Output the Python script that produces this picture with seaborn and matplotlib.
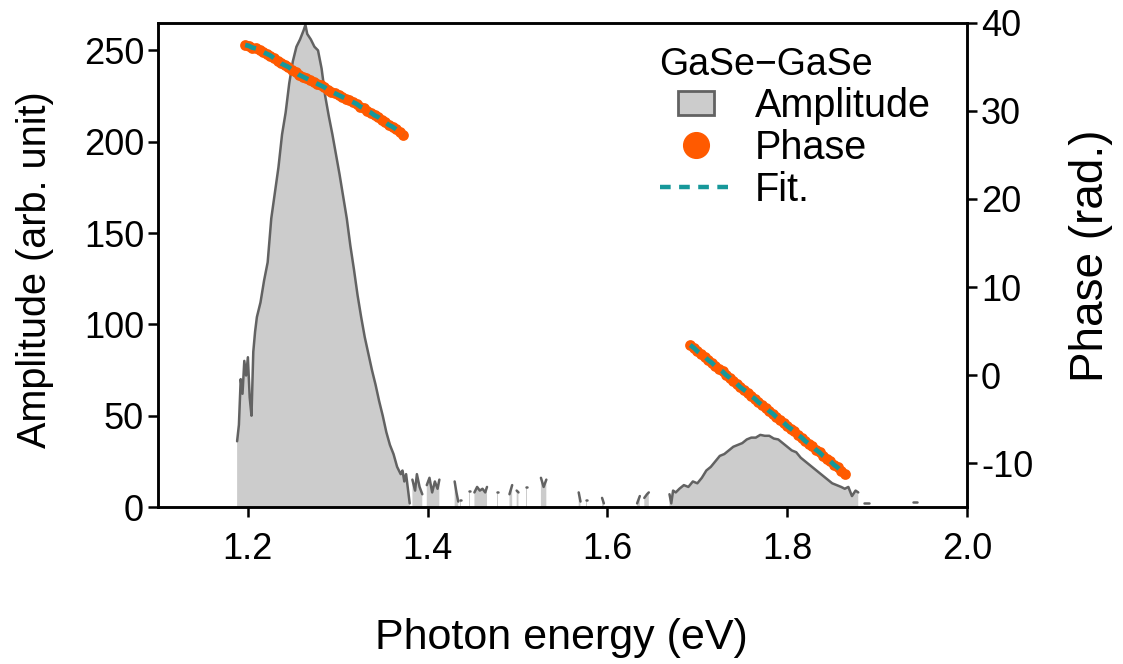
import numpy as np
import pandas as pd
import matplotlib
matplotlib.use("Agg")
import matplotlib.pyplot as plt
from matplotlib.patches import Patch, Rectangle
from matplotlib.lines import Line2D
from matplotlib.legend_handler import HandlerPatch
import seaborn as sns

sns.set_theme(style="ticks")
plt.rcParams['font.family'] = ['Liberation Sans', 'DejaVu Sans']
plt.rcParams['axes.unicode_minus'] = False
for k in ("text.color", "axes.labelcolor", "xtick.color", "ytick.color", "axes.edgecolor"):
    plt.rcParams[k] = "black"

# ---------------- data ----------------
# Amplitude spectrum; None separates the disconnected pieces
amp_energy = [
    1.188, 1.190, 1.192, 1.194, 1.196, 1.198, 1.200, 1.202, 1.204, 1.206, 1.208,
    1.210, 1.214, 1.218, 1.222, 1.226, 1.230, 1.234, 1.238, 1.242, 1.246, 1.250,
    1.254, 1.258, 1.262, 1.264, 1.266, 1.270, 1.274, 1.278, 1.282, 1.286, 1.290,
    1.294, 1.298, 1.302, 1.306, 1.310, 1.314, 1.318, 1.322, 1.326, 1.330, 1.334,
    1.338, 1.342, 1.346, 1.350, 1.354, 1.358, 1.362, 1.366, 1.370, 1.372, 1.374,
    1.376, 1.378, 1.380, None,
    1.383, 1.386, 1.388, 1.391, 1.394, None,
    1.399, 1.402, 1.405, 1.408, 1.411, 1.413, None,
    1.4165, 1.4175, None,
    1.430, 1.432, 1.434, None,
    1.4365, 1.4375, None,
    1.4465, 1.4475, None,
    1.452, 1.455, 1.458, 1.461, 1.464, 1.466, None,
    1.4775, 1.4785, None,
    1.491, 1.494, None,
    1.499, 1.501, None,
    1.5092, 1.5102, None,
    1.526, 1.529, 1.532, None,
    1.568, 1.570, None,
    1.5765, 1.5775, None,
    1.594, 1.596, None,
    1.633, 1.636, None,
    1.641, 1.644, 1.646, None,
    1.669, 1.671, 1.673, 1.676, 1.680, 1.685, 1.690, 1.695, 1.700, 1.705, 1.710,
    1.715, 1.720, 1.725, 1.730, 1.735, 1.740, 1.745, 1.750, 1.755, 1.760, 1.765,
    1.770, 1.775, 1.780, 1.785, 1.790, 1.795, 1.800, 1.805, 1.810, 1.815, 1.820,
    1.825, 1.830, 1.835, 1.840, 1.845, 1.850, 1.855, 1.860, 1.864, 1.868, 1.872,
    1.876, 1.879, None,
    1.885, 1.888, 1.891, None,
    1.940, 1.942, 1.944, None,
    1.9865, 1.9875,
]
amp_value = [
    36, 45, 70, 62, 80, 72, 82, 60, 50, 85, 96,
    104, 112, 124, 134, 158, 172, 186, 204, 216, 232, 244,
    252, 256, 261, 264, 259, 256, 252, 250, 240, 225, 214,
    204, 193, 182, 170, 158, 143, 130, 116, 104, 93, 84,
    75, 67, 58, 50, 41, 34, 29, 22, 18, 20, 14,
    18, 10, 2, None,
    15, 9, 18, 11, 7, None,
    12, 16, 8, 14, 10, 15, None,
    12, 12, None,
    14, 8, 3, None,
    4, 4, None,
    9, 9, None,
    8, 11, 9, 10, 8, 11, None,
    8.5, 8.5, None,
    7, 12, None,
    9, 8, None,
    11, 11, None,
    16, 11, 15, None,
    8, 3, None,
    4, 4, None,
    5, 2, None,
    2, 6, None,
    5, 7, 8, None,
    7, 2, 9, 8, 10, 12, 11, 14, 13, 16, 20,
    22, 25, 28, 29, 31, 33, 34, 35, 37, 38, 38,
    39.5, 39, 39, 37.5, 37, 35, 33, 31, 30, 27, 25,
    23, 21, 19, 17, 15, 13, 12, 11, 10, 11, 6,
    9, 8, 4, 2, None,
    2, 4, 3, None,
    3, 6, 2, None,
    3, 3,
]

# Phase (two spectral windows) and fit
phase1_energy = [1.197, 1.201, 1.205, 1.209, 1.213, 1.217, 1.221, 1.225, 1.229,
                 1.233, 1.237, 1.241, 1.245, 1.249, 1.253, 1.257, 1.261, 1.265,
                 1.269, 1.273, 1.277, 1.281, 1.285, 1.289, 1.293, 1.297, 1.301,
                 1.305, 1.309, 1.313, 1.317, 1.321, 1.325, 1.329, 1.333, 1.337,
                 1.341, 1.345, 1.349, 1.353, 1.357, 1.361, 1.365, 1.369, 1.373]
phase1_value = [37.5, 37.4, 37.2, 37.1, 36.9, 36.7, 36.5, 36.3, 36.0,
                35.7, 35.4, 35.2, 35.0, 34.7, 34.4, 34.1, 33.9, 33.7,
                33.5, 33.3, 33.1, 32.9, 32.7, 32.4, 32.2, 32.0, 31.8,
                31.6, 31.4, 31.2, 31.0, 30.8, 30.5, 30.3, 30.0, 29.8,
                29.5, 29.3, 29.0, 28.7, 28.4, 28.2, 27.9, 27.6, 27.3]
phase2_energy = [1.692, 1.696, 1.700, 1.704, 1.708, 1.712, 1.716, 1.720, 1.724,
                 1.728, 1.732, 1.736, 1.740, 1.744, 1.748, 1.752, 1.756, 1.760,
                 1.764, 1.768, 1.772, 1.776, 1.780, 1.784, 1.788, 1.792, 1.796,
                 1.800, 1.804, 1.808, 1.812, 1.816, 1.820, 1.824, 1.828, 1.832,
                 1.836, 1.840, 1.844, 1.848, 1.852, 1.856, 1.860, 1.864]
phase2_value = [3.4, 3.1, 2.7, 2.4, 2.1, 1.7, 1.4, 1.0, 0.7,
                0.4, 0.0, -0.3, -0.7, -1.0, -1.4, -1.7, -2.0, -2.4,
                -2.7, -3.1, -3.4, -3.7, -4.1, -4.4, -4.8, -5.1, -5.4,
                -5.8, -6.1, -6.4, -6.8, -7.1, -7.5, -7.8, -8.1, -8.5,
                -8.8, -9.2, -9.5, -9.8, -10.2, -10.5, -10.9, -11.2]

x_ticks = [1.2, 1.4, 1.6, 1.8, 2.0]
amp_ticks = [0, 50, 100, 150, 200, 250]
phase_ticks = [-10, 0, 10, 20, 30, 40]

legend_title = "GaSe\u2212GaSe"
labels = ["Amplitude", "Phase", "Fit."]

# ---------------- styling ----------------
FILL = "#cccccc"
EDGE = "#626262"
ORANGE = "#ff5a00"
TEAL = "#16989a"
TICK_FS = 26
DASH = (0, (2.4, 1.9))

amp_df = pd.DataFrame({"E": pd.to_numeric(pd.Series(amp_energy), errors="coerce"),
                       "A": pd.to_numeric(pd.Series(amp_value), errors="coerce")})
amp_df["seg"] = amp_df["E"].isna().cumsum()
amp_lines = amp_df.dropna()

ph_df = pd.DataFrame({
    "E": phase1_energy + phase2_energy,
    "P": phase1_value + phase2_value,
    "seg": [0] * len(phase1_energy) + [1] * len(phase2_energy),
})

fig = plt.figure(figsize=(11.23, 6.64), dpi=100)
ax = fig.add_axes([0.1407, 0.2364, 0.7204, 0.729])
ax2 = ax.twinx()

ax.fill_between(amp_df["E"], 0, amp_df["A"], color=FILL, linewidth=0, zorder=1)
sns.lineplot(data=amp_lines, x="E", y="A", units="seg", estimator=None, sort=False,
             color=EDGE, linewidth=1.8, ax=ax, zorder=2, legend=False)

sns.scatterplot(data=ph_df, x="E", y="P", color=ORANGE, s=60, linewidth=0,
                ax=ax2, zorder=3, legend=False)
sns.lineplot(data=ph_df, x="E", y="P", units="seg", estimator=None, sort=False,
             color=TEAL, linewidth=3.4, ax=ax2, zorder=4, legend=False)
for l in ax2.get_lines():
    l.set_linestyle(DASH)

ax.set_xlim(1.1, 2.0)
ax.set_ylim(0, 265)
ax2.set_ylim(-15, 40)
ax.set_xticks(x_ticks)
ax.set_xticklabels([f"{v:.1f}" for v in x_ticks])
ax.set_yticks(amp_ticks)
ax2.set_yticks(phase_ticks)

ax.set_xlabel("Photon energy (eV)", fontsize=31)
ax.xaxis.set_label_coords(0.499, -0.23)
ax.set_ylabel("Amplitude (arb. unit)", fontsize=28.5)
ax.yaxis.set_label_coords(-0.128, 0.49)
ax2.set_ylabel("Phase (rad.)", fontsize=33)
ax2.yaxis.set_label_coords(1.126, 0.52)

for a in (ax, ax2):
    for s in a.spines.values():
        s.set_linewidth(1.8)
        s.set_color("black")
    a.tick_params(axis="both", direction="out", length=7, width=1.8,
                  labelsize=TICK_FS, colors="black", pad=3)
ax.tick_params(axis="x", pad=11)
ax2.spines["top"].set_visible(True)


class SmallRectHandler(HandlerPatch):
    def create_artists(self, legend, orig_handle, xdescent, ydescent,
                       width, height, fontsize, trans):
        w = width * 0.49
        h = height * 0.86
        x = -xdescent + (width - w) / 2
        y = -ydescent + (height - h) / 2
        r = Rectangle((x, y), w, h, facecolor=orig_handle.get_facecolor(),
                      edgecolor=orig_handle.get_edgecolor(), linewidth=2,
                      transform=trans)
        return [r]


amp_handle = Patch(facecolor=FILL, edgecolor=EDGE, linewidth=2)
handles = [
    amp_handle,
    Line2D([], [], marker="o", color=ORANGE, linestyle="none", markersize=18.5),
    Line2D([], [], color=TEAL, linewidth=3.2, linestyle=DASH),
]
leg = ax2.legend(handles, labels, title=legend_title, loc="upper left",
                 bbox_to_anchor=(0.62, 0.95), frameon=False, fontsize=28.5,
                 title_fontsize=27, handlelength=1.85, handletextpad=0.55,
                 labelspacing=0.1, borderpad=0.0, borderaxespad=0.0,
                 handler_map={Patch: SmallRectHandler()})
leg._legend_box.align = "left"

fig.savefig("out.png", dpi=100)
